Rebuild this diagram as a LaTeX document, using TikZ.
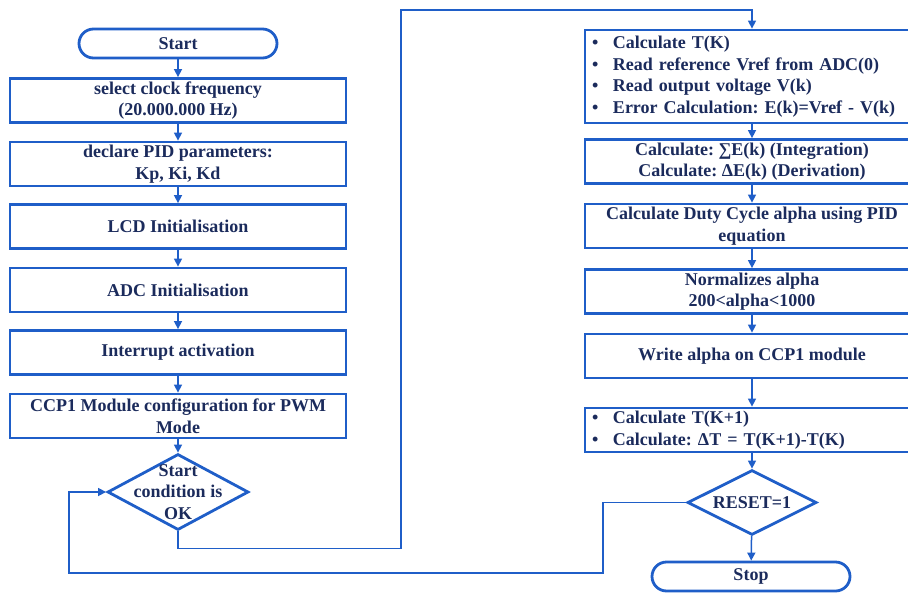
\documentclass[tikz,border=0pt]{standalone}
\usepackage{fontspec}
\setmainfont{Liberation Serif}
\usepackage{tikz}
\definecolor{FLOWblue}{HTML}{1F5EC8}
\definecolor{FLOWnavy}{HTML}{1B2B5C}
\usetikzlibrary{shapes.geometric,arrows.meta}
\newcommand{\flowitem}{\makebox[21pt][l]{\textbullet}}
\frenchspacing

\begin{document}
\begin{tikzpicture}[x=1pt,y=-1pt,
    every node/.style={font=\bfseries\fontsize{18}{21.5}\selectfont,text=FLOWnavy},
    stepbox/.style={rectangle,draw=FLOWblue,line width=2.8pt,minimum width=336pt,minimum height=44pt,align=center,inner sep=0pt},
    itembox/.style={stepbox,minimum width=334pt,text width=320pt,inner xsep=7pt,align=left},
    terminal/.style={rectangle,rounded corners=14.5pt,draw=FLOWblue,line width=2.8pt,minimum width=198pt,minimum height=29pt,inner sep=0pt},
    decision/.style={diamond,draw=FLOWblue,line width=2.8pt,inner sep=0pt},
    flow/.style={draw=FLOWblue,line width=1.5pt,-{Triangle[length=8pt,width=8pt]}}]
  \useasboundingbox (0,0) rectangle (908,592);

  \node[terminal] (start) at (178,43.5) {Start};
  \node[stepbox] (clock) at (178,100.5) {select clock frequency\\(20.000.000 Hz)};
  \node[stepbox] (pid) at (178,164) {declare PID parameters:\\Kp, Ki, Kd};
  \node[stepbox] (lcd) at (178,226.5) {LCD Initialisation};
  \node[stepbox] (adc) at (178,290) {ADC Initialisation};
  \node[stepbox] (intr) at (178,352.5) {Interrupt activation};
  \node[stepbox] (ccp) at (178,416) {CCP1 Module configuration for PWM\\Mode};
  \node[decision,minimum width=141pt,minimum height=76pt,
        label={[align=center]center:Start\\condition is\\OK}] (cond) at (178,492) {};

  \node[itembox,minimum height=93pt] (read) at (752,76.5) {\flowitem Calculate T(K)\\
    \flowitem Read reference Vref from ADC(0)\\
    \flowitem Read output voltage V(k)\\
    \flowitem Error Calculation: E(k)=Vref - V(k)};
  \node[stepbox,minimum width=334pt] (sum) at (752,161.5) {Calculate: ∑E(k) (Integration)\\Calculate: ΔE(k) (Derivation)};
  \node[stepbox,minimum width=334pt] (duty) at (752,226) {Calculate Duty Cycle alpha using PID\\equation};
  \node[stepbox,minimum width=334pt] (norm) at (752,291.5) {Normalizes alpha\\200<alpha<1000};
  \node[stepbox,minimum width=334pt] (write) at (752,356) {Write alpha on CCP1 module};
  \node[itembox] (time) at (752,430) {\flowitem Calculate T(K+1)\\
    \flowitem Calculate: ΔT = T(K+1)-T(K)};
  \node[decision,minimum width=129pt,minimum height=65pt,
        label={center:RESET=1}] (reset) at (752,502.5) {};
  \node[terminal] (stop) at (751,576.5) {Stop};

  \draw[flow] (start) -- (clock);
  \draw[flow] (clock) -- (pid);
  \draw[flow] (pid) -- (lcd);
  \draw[flow] (lcd) -- (adc);
  \draw[flow] (adc) -- (intr);
  \draw[flow] (intr) -- (ccp);
  \draw[flow] (ccp) -- (cond);
  \draw[flow] (cond.south) -- ++(0,17) -| (401,10) -| (read.north);
  \draw[flow] (read) -- (sum);
  \draw[flow] (sum) -- (duty);
  \draw[flow] (duty) -- (norm);
  \draw[flow] (norm) -- (write);
  \draw[flow] (write) -- (time);
  \draw[flow] (time) -- (reset);
  \draw[flow] (reset) -- (stop);
  \draw[flow] (reset.west) -| (603,573) -| (69,492) -- (cond.west);
\end{tikzpicture}
\end{document}
